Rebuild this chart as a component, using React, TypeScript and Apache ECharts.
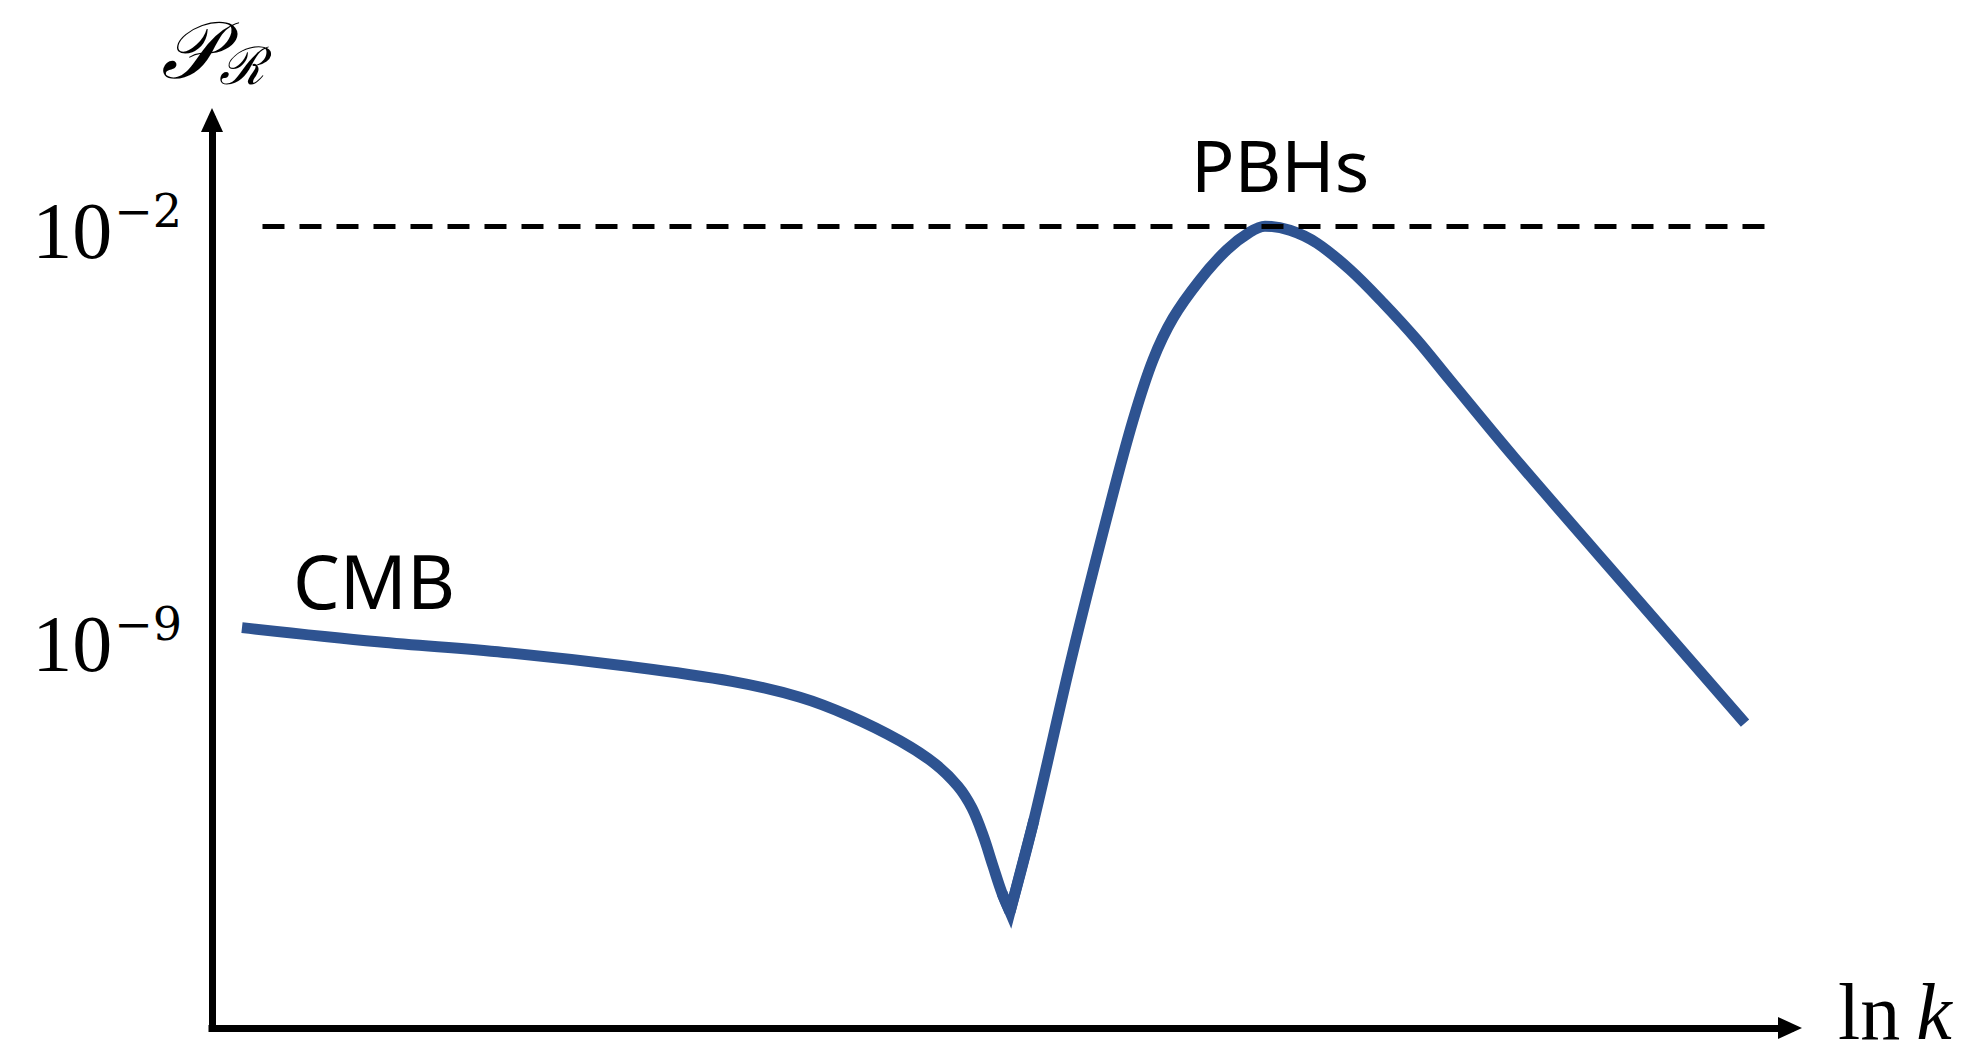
import React, { useEffect, useRef } from "react";
import * as echarts from "echarts";

// ln k (arbitrary units) and log10 of the power spectrum P_R
const lnK = [1.9, 10.5, 18.5, 26.5, 32.95, 37.26, 40.43, 43.6, 45.82, 47.27, 48.16, 48.86, 49.49, 50.06, 50.57, 52.09, 54.5, 56.91, 58.37, 59.63, 60.9, 62.61, 64.32, 65.78, 66.73, 68.31, 70.03, 72.12, 74.21, 76.36, 78.45, 82.51, 90.49, 97.15];
const log10P = [-8.81, -9.05, -9.23, -9.47, -9.72, -9.99, -10.31, -10.73, -11.12, -11.5, -11.87, -12.33, -12.85, -13.31, -13.63, -12.07, -9.29, -6.73, -5.29, -4.27, -3.56, -2.91, -2.4, -2.1, -2.0, -2.07, -2.29, -2.74, -3.3, -3.93, -4.61, -5.92, -8.38, -10.43];

const yTicks = [-2, -9];
const thresholdLevel = -2;
const thresholdRange = [3.2, 98.9];
const regionLabels = ["CMB", "PBHs"];
const xAxisTitle = ["ln", "k"];

export default function App() {
  const ref = useRef<HTMLDivElement>(null);
  useEffect(() => {
    if (!ref.current) return;
    const chart = echarts.init(ref.current, null, { renderer: "svg" });
    const serif = "'Liberation Serif', 'DejaVu Serif', serif";
    const sans = "'Noto Sans', 'Open Sans', sans-serif";

    const points = lnK.map((x, i) => [x, log10P[i]]);
    let minIdx = 0;
    log10P.forEach((v, i) => {
      if (v < log10P[minIdx]) minIdx = i;
    });
    const leftPart = points.slice(0, minIdx + 1);
    const rightPart = points.slice(minIdx);
    const cuspPart = points.slice(minIdx - 1, minIdx + 2);

    const curveStyle = { color: "#2E5391", width: 11, join: "miter", miterLimit: 10, cap: "butt" };

    chart.setOption({
      animation: false,
      backgroundColor: "#ffffff",
      grid: { left: 212, top: 120, right: 188, bottom: 34, containLabel: false },
      xAxis: {
        type: "value",
        min: 0,
        max: 100,
        axisLine: {
          onZero: false,
          symbol: ["none", "triangle"],
          symbolSize: [22, 24],
          lineStyle: { color: "#000", width: 7, cap: "square" },
        },
        axisTick: { show: false },
        axisLabel: { show: false },
        splitLine: { show: false },
      },
      yAxis: {
        type: "value",
        min: -15.6,
        max: -0.2,
        axisLine: {
          onZero: false,
          symbol: ["none", "triangle"],
          symbolSize: [22, 24],
          lineStyle: { color: "#000", width: 7, cap: "square" },
        },
        axisTick: { show: false },
        splitLine: { show: false },
        axisLabel: {
          customValues: yTicks,
          margin: 30,
          padding: [10, 0, 0, 0],
          formatter: (v: number) => `{b|10}{s|\u2212${Math.abs(Math.round(v))}}`,
          rich: {
            b: { fontFamily: serif, fontSize: 80, color: "#000" },
            s: { fontFamily: "'DejaVu Serif', serif", fontSize: 46, color: "#000", padding: [0, 0, 40, 2] },
          },
        },
        name: "{p|\uD835\uDCAB}{r|\u211B}",
        nameLocation: "end",
        nameGap: 28,
        nameTextStyle: {
          align: "center",
          rich: {
            p: { fontFamily: serif, fontSize: 80, fontStyle: "italic", color: "#000" },
            r: { fontFamily: serif, fontSize: 52, fontStyle: "italic", color: "#000", padding: [30, 0, 0, 0] },
          },
        },
      },
      graphic: [
        {
          type: "text",
          x: 293,
          y: 580,
          style: { text: regionLabels[0], font: `74px ${sans}`, fill: "#000", verticalAlign: "middle" },
        },
        {
          type: "text",
          x: 1191,
          y: 164,
          style: { text: regionLabels[1], font: `72px ${sans}`, fill: "#000", verticalAlign: "middle" },
        },
        {
          type: "text",
          x: 1838,
          y: 1012,
          style: {
            text: `{r|${xAxisTitle[0]}\u2009}{i|${xAxisTitle[1]}}`,
            verticalAlign: "middle",
            rich: {
              r: { fontFamily: serif, fontSize: 80, fill: "#000" },
              i: { fontFamily: serif, fontSize: 80, fontStyle: "italic", fill: "#000" },
            },
          },
        },
      ],
      series: [
        {
          type: "line",
          data: leftPart,
          symbol: "none",
          smooth: 0.35,
          lineStyle: curveStyle,
          markLine: {
            silent: true,
            symbol: ["none", "none"],
            label: { show: false },
            lineStyle: { color: "#000", width: 5, type: [22, 15] },
            data: [[{ coord: [thresholdRange[0], thresholdLevel] }, { coord: [thresholdRange[1], thresholdLevel] }]],
          },
        },
        {
          type: "line",
          data: rightPart,
          symbol: "none",
          smooth: 0.35,
          lineStyle: curveStyle,
        },
        {
          type: "line",
          data: cuspPart,
          symbol: "none",
          smooth: false,
          lineStyle: curveStyle,
        },
      ],
    });
    return () => chart.dispose();
  }, []);
  return (
    <div
      ref={ref}
      style={{ position: "fixed", left: 0, top: 0, width: 1978, height: 1062, background: "#fff" }}
    />
  );
}
